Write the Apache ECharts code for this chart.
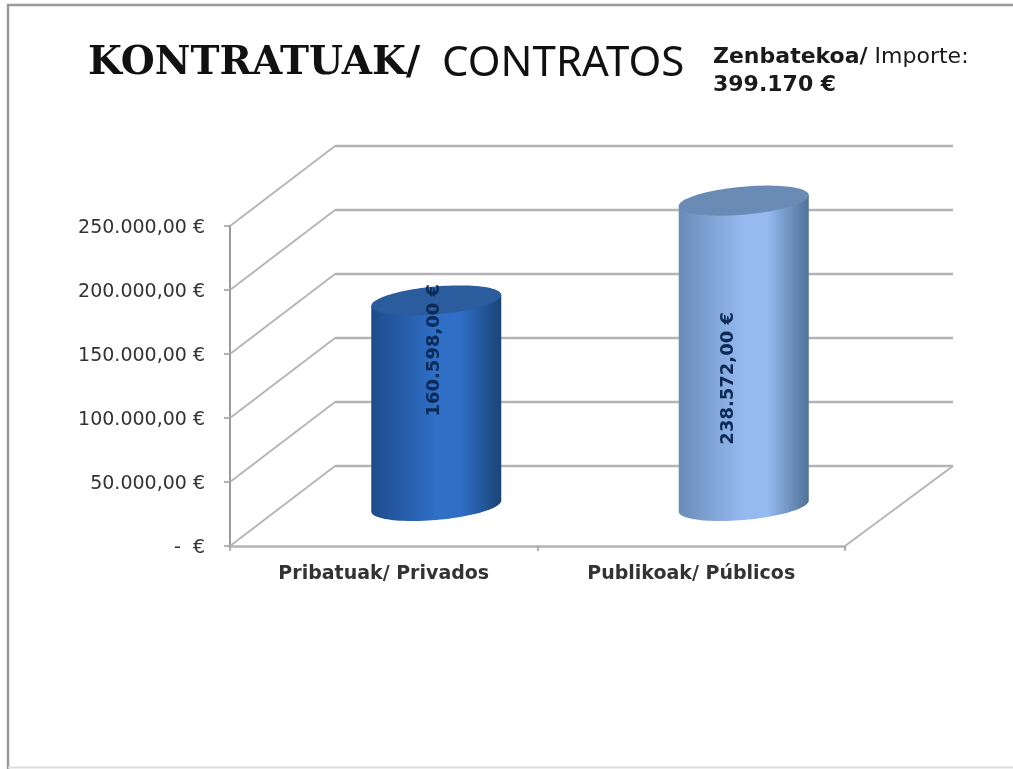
<!DOCTYPE html>
<html>
<head>
<meta charset="utf-8">
<title>Kontratuak / Contratos</title>
<style>html,body{margin:0;padding:0;background:#fff}#c{width:1013px;height:769px}</style>
<script src="https://cdn.jsdelivr.net/npm/echarts@6/dist/echarts.min.js"></script>
</head>
<body>
<div id="c"></div>
<script>
const categories = ['Pribatuak/ Privados', 'Publikoak/ Públicos'];
const values = [160598, 238572];
const valueLabels = ['160.598,00 €', '238.572,00 €'];
const yTicks = [0, 50000, 100000, 150000, 200000, 250000];
const yTickLabels = ['-  €', '50.000,00 €', '100.000,00 €', '150.000,00 €', '200.000,00 €', '250.000,00 €'];

// 3D look (pixels), not data
const DEPTH_X = 105, DEPTH_Y = -80, RIGHT_EXTRA = 3, RX = 65, RY = 14, SHEAR = 5.5;
const labelShift = [[-2, -53], [-15, 25]];
const palettes = [
  { side: ['#1e4c8c', '#2f6fc6', '#1b4478'], top: '#2a5c9e' },
  { side: ['#6a8cb9', '#96baf0', '#4f7196'], top: '#6a8bb6' }
];
const GRID = '#b4b4b4', AXIS = '#9a9a9a', TEXT = '#333333';

function ellipsePoint(cx, cy, t) {
  return [cx + RX * Math.cos(t), cy - SHEAR * Math.cos(t) + RY * Math.sin(t)];
}
function renderWall(params, api) {
  const cs = params.coordSys;
  const y = api.coord([0, api.value(0)])[1];
  const isFloor = api.value(0) === 0;
  const children = [
    { type: 'line', shape: { x1: cs.x, y1: y, x2: cs.x + DEPTH_X, y2: y + DEPTH_Y }, style: { stroke: GRID, lineWidth: 1.8 } },
    { type: 'line', shape: { x1: cs.x + DEPTH_X, y1: y + DEPTH_Y, x2: cs.x + cs.width + DEPTH_X + RIGHT_EXTRA, y2: y + DEPTH_Y }, style: { stroke: GRID, lineWidth: 2.5 } }
  ];
  if (isFloor) {
    children.push({
      type: 'line',
      shape: { x1: cs.x + cs.width, y1: y, x2: cs.x + cs.width + DEPTH_X + RIGHT_EXTRA, y2: y + DEPTH_Y },
      style: { stroke: GRID, lineWidth: 1.8 }
    });
  }
  return { type: 'group', children: children };
}
function renderCylinder(params, api) {
  const i = params.dataIndex;
  const top = api.coord([api.value(0), api.value(1)]);
  const base = api.coord([api.value(0), 0]);
  const cx = top[0] + DEPTH_X / 2;
  const yTop = top[1] + DEPTH_Y / 2;
  const yBase = base[1] + DEPTH_Y / 2;
  const N = 48, body = [], lid = [];
  body.push(ellipsePoint(cx, yTop, Math.PI));
  for (let k = 0; k <= N; k++) body.push(ellipsePoint(cx, yBase, Math.PI - Math.PI * k / N));
  body.push(ellipsePoint(cx, yTop, 0));
  for (let k = 0; k < 2 * N; k++) lid.push(ellipsePoint(cx, yTop, Math.PI * k / N));
  const p = palettes[i];
  return {
    type: 'group',
    children: [
      { type: 'polygon', shape: { points: body }, style: {
        fill: new echarts.graphic.LinearGradient(0, 0, 1, 0, [
          { offset: 0, color: p.side[0] },
          { offset: 0.5, color: p.side[1] },
          { offset: 0.68, color: p.side[1] },
          { offset: 1, color: p.side[2] }
        ]) } },
      { type: 'polygon', shape: { points: lid }, style: { fill: p.top } },
      { type: 'text', x: cx + labelShift[i][0], y: (yTop + yBase) / 2 + labelShift[i][1], rotation: Math.PI / 2,
        style: { text: valueLabels[i], fill: '#0c2a55', font: 'bold 18px "DejaVu Sans"', align: 'center', verticalAlign: 'middle' } }
    ]
  };
}

const chart = echarts.init(document.getElementById('c'));
chart.setOption({
  animation: false,
  backgroundColor: '#ffffff',
  title: [
    {
      left: 83, top: 38,
      text: '{b|KONTRATUAK/}{s|  }{r|CONTRATOS}',
      textStyle: { rich: {
        b: { fontFamily: 'DejaVu Serif', fontWeight: 'bold', fontSize: 39, color: '#111111' },
        s: { fontFamily: 'Noto Sans', fontSize: 42, color: '#111111' },
        r: { fontFamily: 'Noto Sans', fontWeight: 'normal', fontSize: 42, color: '#111111' }
      } }
    },
    {
      left: 708, top: 38,
      text: '{b|Zenbatekoa/}{r| Importe:}\n{b|399.170 €}',
      textStyle: { rich: {
        b: { fontFamily: 'DejaVu Sans', fontWeight: 'bold', fontSize: 22, color: '#1a1a1a', lineHeight: 28 },
        r: { fontFamily: 'DejaVu Sans', fontWeight: 'normal', fontSize: 22, color: '#1a1a1a', lineHeight: 28 }
      } }
    }
  ],
  grid: { left: 230, top: 226, width: 615, height: 320, containLabel: false },
  xAxis: {
    type: 'category', data: categories,
    axisLine: { show: true, lineStyle: { color: GRID, width: 2.5 } },
    axisTick: { show: true, length: 5, lineStyle: { color: AXIS, width: 1.5 } },
    axisLabel: { color: TEXT, fontFamily: 'DejaVu Sans', fontWeight: 'bold', fontSize: 19, margin: 19 },
    splitLine: { show: false }
  },
  yAxis: {
    type: 'value', min: 0, max: 250000, interval: 50000,
    axisLine: { show: true, lineStyle: { color: AXIS, width: 2 } },
    axisTick: { show: true, length: 6, lineStyle: { color: AXIS, width: 1.5 } },
    axisLabel: {
      color: TEXT, fontFamily: 'DejaVu Sans', fontSize: 19, margin: 25, verticalAlign: 'top', lineHeight: 4,
      formatter: function (v) { return yTickLabels[yTicks.indexOf(v)]; }
    },
    splitLine: { show: false }
  },
  series: [
    { type: 'custom', name: 'wall', z: 1, silent: true, renderItem: renderWall, data: yTicks.map(v => [v]), encode: { y: 0 } },
    { type: 'custom', name: 'Kontratuak', z: 3, silent: true, renderItem: renderCylinder,
      data: categories.map((c, i) => [i, values[i]]), encode: { x: 0, y: 1 } }
  ],
  graphic: [
    { type: 'polyline', silent: true, shape: { points: [[8, 769], [8, 5], [1013, 5]] }, style: { stroke: '#9a9a9a', lineWidth: 2.5, fill: null } },
    { type: 'line', silent: true, shape: { x1: 8, y1: 767.5, x2: 1013, y2: 767.5 }, style: { stroke: '#dddddd', lineWidth: 2 } }
  ]
});
</script>
</body>
</html>
